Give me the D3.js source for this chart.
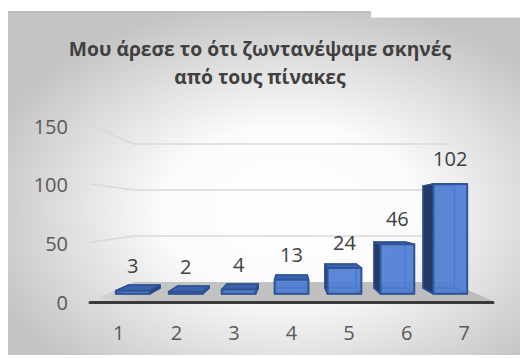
<!DOCTYPE html>
<html>
<head>
<meta charset="utf-8">
<script src="https://cdn.jsdelivr.net/npm/d3@7"></script>
<style>
  html, body { margin: 0; padding: 0; background: #ffffff; }
  svg { display: block; }
  text { font-family: "Open Sans", "Noto Sans", sans-serif; }
</style>
</head>
<body>
<div id="chart"></div>
<script>
// Survey responses per rating (1–7)
const categories = ["1", "2", "3", "4", "5", "6", "7"];
const values = [3, 2, 4, 13, 24, 46, 102];
const yTicks = [0, 50, 100, 150];
const titleLines = ["Μου άρεσε το ότι ζωντανέψαμε σκηνές", "από τους πίνακες"];

const W = 520, H = 358;
const svg = d3.select("#chart").append("svg")
  .attr("width", W).attr("height", H);

const defs = svg.append("defs");
const bg = defs.append("radialGradient").attr("id", "bgGrad")
  .attr("cx", "0.55").attr("cy", "0.58").attr("r", "0.62");
bg.append("stop").attr("offset", "0").attr("stop-color", "#ffffff");
bg.append("stop").attr("offset", "0.4").attr("stop-color", "#fbfbfb");
bg.append("stop").attr("offset", "1").attr("stop-color", "#c4c4c4");

const floorGrad = defs.append("linearGradient").attr("id", "floorGrad")
  .attr("x1", "0").attr("x2", "1").attr("y1", "0").attr("y2", "0");
floorGrad.append("stop").attr("offset", "0").attr("stop-color", "#dcdcdc");
floorGrad.append("stop").attr("offset", "0.12").attr("stop-color", "#c4c4c4");
floorGrad.append("stop").attr("offset", "1").attr("stop-color", "#bcbcbc");

// chart area background
svg.append("rect").attr("x", 8).attr("y", 12).attr("width", W - 8).attr("height", 343)
  .attr("fill", "url(#bgGrad)");
svg.append("line").attr("x1", 8).attr("x2", 371).attr("y1", 12).attr("y2", 12)
  .attr("stroke", "#bdbdbd").attr("stroke-width", 2);
svg.append("rect").attr("x", 371).attr("y", 0).attr("width", W - 371).attr("height", 17.5)
  .attr("fill", "#ffffff");

// title
const title = svg.append("text").attr("text-anchor", "middle")
  .attr("font-weight", 700).attr("font-size", 19.3).attr("fill", "#404040");
titleLines.forEach((t, i) => {
  title.append("tspan").attr("x", 260).attr("y", 56 + i * 27.5).text(t);
});

// 3D plot: front-plane scales plus a perspective toward a vanishing point
const x = d3.scaleBand().domain(categories).range([90, 493])
  .paddingInner(0.36).paddingOuter(0.18);
const y = d3.scaleLinear().domain([0, 150]).range([301, 125]);
const vp = { x: 292, y: 213 };
const depthK = 0.2755;           // total floor depth in perspective units
const k = d => 1 / (1 + d * depthK);
const P = (X, Y, d) => [vp.x + (X - vp.x) * k(d), vp.y + (Y - vp.y) * k(d)];
const xL = 90, xR = 493;

// floor
const floorPts = [P(xL, y(0), 0), P(xR, y(0), 0), P(xR, y(0), 1), P(xL, y(0), 1)];
svg.append("polygon").attr("points", floorPts.map(p => p.join(",")).join(" "))
  .attr("fill", "url(#floorGrad)");

// gridlines on side and back walls
const grid = svg.append("g").attr("fill", "none")
  .attr("stroke", "#d9d9d9").attr("stroke-width", 1.5);
yTicks.filter(v => v > 0).forEach(v => {
  grid.append("polyline").attr("points",
    [P(xL, y(v), 0), P(xL, y(v), 1), P(xR, y(v), 1)].map(p => p.join(",")).join(" "));
});

// y tick labels
svg.append("g").selectAll("text").data(yTicks).join("text")
  .attr("x", 68).attr("y", v => y(v) + 1.5).attr("dy", "0.35em")
  .attr("text-anchor", "end").attr("font-size", 20).attr("fill", "#595959")
  .text(d => d);

// front axis line
svg.append("line").attr("x1", xL).attr("x2", xR)
  .attr("y1", y(0) + 1.5).attr("y2", y(0) + 1.5)
  .attr("stroke", "#3a3a3a").attr("stroke-width", 3).attr("stroke-linecap", "round");

// bars as translucent boxes
const d0 = 0.32, d1 = 0.63;
const poly = pts => pts.map(p => p.join(",")).join(" ");
const barsG = svg.append("g");
categories.forEach((c, i) => {
  const v = values[i];
  const x0 = x(c), x1 = x(c) + x.bandwidth();
  const yb = y(0), yt = y(v);
  const g = barsG.append("g").attr("stroke-linejoin", "round");
  const faces = {
    back:   [P(x0, yb, d1), P(x1, yb, d1), P(x1, yt, d1), P(x0, yt, d1)],
    bottom: [P(x0, yb, d0), P(x1, yb, d0), P(x1, yb, d1), P(x0, yb, d1)],
    top:    [P(x0, yt, d0), P(x1, yt, d0), P(x1, yt, d1), P(x0, yt, d1)],
    left:   [P(x0, yb, d0), P(x0, yt, d0), P(x0, yt, d1), P(x0, yb, d1)],
    right:  [P(x1, yb, d0), P(x1, yt, d0), P(x1, yt, d1), P(x1, yb, d1)],
    front:  [P(x0, yb, d0), P(x1, yb, d0), P(x1, yt, d0), P(x0, yt, d0)]
  };
  const leftVis = x0 > vp.x, rightVis = x1 < vp.x, topVis = yt > vp.y;
  // faces hidden from view: edges show through the translucent front
  const hidden = ["back", "bottom"];
  if (!leftVis) hidden.push("left");
  if (!rightVis) hidden.push("right");
  if (!topVis) hidden.push("top");
  hidden.forEach(f => g.append("polygon").attr("points", poly(faces[f]))
    .attr("fill", "#3f6cc0").attr("fill-opacity", 0.25)
    .attr("stroke", "#3360ad").attr("stroke-width", 1.2));
  if (leftVis) g.append("polygon").attr("points", poly(faces.left))
    .attr("fill", "#243a66").attr("stroke", "#2c4f90").attr("stroke-width", 1.5);
  if (rightVis) g.append("polygon").attr("points", poly(faces.right))
    .attr("fill", "#243a66").attr("stroke", "#2c4f90").attr("stroke-width", 1.5);
  if (topVis) g.append("polygon").attr("points", poly(faces.top))
    .attr("fill", "#3a62ad").attr("stroke", "#2c4f90").attr("stroke-width", 1.5);
  g.append("polygon").attr("points", poly(faces.front))
    .attr("fill", "#4c7cd4").attr("fill-opacity", 0.88)
    .attr("stroke", "#2f5597").attr("stroke-width", 2);

  // value label above the front face
  const top = P(x0 + x.bandwidth() / 2, yt, d0);
  svg.append("text").attr("x", top[0]).attr("y", top[1] - 25).attr("dy", "0.35em")
    .attr("text-anchor", "middle").attr("font-size", 20).attr("fill", "#404040")
    .text(v);
});

// category labels
svg.append("g").selectAll("text").data(categories).join("text")
  .attr("x", c => x(c) + x.bandwidth() / 2).attr("y", 333).attr("dy", "0.35em")
  .attr("text-anchor", "middle").attr("font-size", 20).attr("fill", "#595959")
  .text(d => d);
</script>
</body>
</html>
